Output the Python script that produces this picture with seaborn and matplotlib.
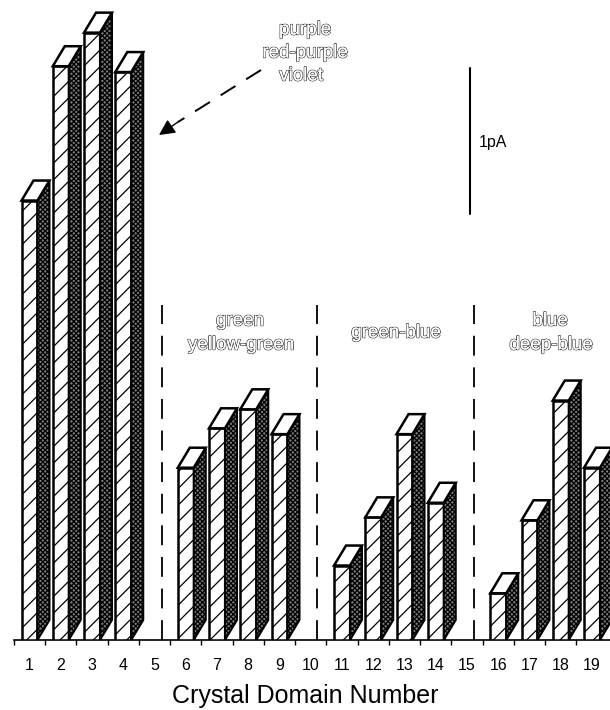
import matplotlib
matplotlib.use('Agg')
import matplotlib.pyplot as plt
import matplotlib.patheffects as pe
from matplotlib.patches import Polygon
import numpy as np
import pandas as pd
import seaborn as sns

# bar heights in pA
domains = [str(i) for i in range(1, 20)]
currents = [3.01, 3.93, 4.16, 3.89, 0, 1.18, 1.45, 1.58, 1.41, 0,
            0.51, 0.84, 1.41, 0.94, 0, 0.32, 0.82, 1.64, 1.18]

sns.set_theme(style='white')
plt.rcParams['font.family'] = ['Liberation Sans', 'DejaVu Sans']
plt.rcParams['hatch.linewidth'] = 0.9

PX_X = 31.25   # pixels per domain
PX_Y = 146.0   # pixels per pA
DX = 12 / PX_X  # 3d depth
DY = 20 / PX_Y

df = pd.DataFrame({'domain': domains, 'current': currents})

fig = plt.figure(figsize=(6.1, 7.1), dpi=100)
ax = fig.add_axes([0, 70 / 710, 1, 640 / 710])

sns.barplot(data=df, x='domain', y='current', width=0.51, color='white',
            saturation=1, edgecolor='black', linewidth=1.8, ax=ax, zorder=3)

for bar, val in zip(ax.patches, currents):
    if val == 0:
        bar.set_visible(False)
        continue
    bar.set_hatch('//')
    x0 = bar.get_x()
    x1 = x0 + bar.get_width()
    side = Polygon([(x1, 0), (x1 + DX, DY), (x1 + DX, val + DY), (x1, val)],
                   facecolor='#7a7a7a', edgecolor='black', hatch='xxxxxxx',
                   linewidth=1.5, zorder=4)
    top = Polygon([(x0, val), (x0 + DX, val + DY), (x1 + DX, val + DY), (x1, val)],
                  facecolor='white', edgecolor='black', linewidth=1.8, zorder=5)
    ax.add_patch(side)
    ax.add_patch(top)

ax.set_xlim(-29.5 / PX_X, (610 - 29.5) / PX_X)
ax.set_ylim(0, 640 / PX_Y)
ax.set_yticks([])
ax.set_ylabel('')
ax.set_xticks(range(len(domains)), domains)
ax.set_xticks(np.arange(len(domains)) - 0.5, minor=True)
ax.tick_params(axis='x', which='major', length=0, pad=13, labelsize=11.5, colors='black')
ax.tick_params(axis='x', which='minor', length=3.8, width=1, bottom=True, color='black')
ax.set_xlabel('Crystal Domain Number', fontsize=18, color='black', labelpad=8)

sns.despine(ax=ax, left=True)
ax.spines['bottom'].set_color('black')
ax.spines['bottom'].set_linewidth(1.2)
ax.spines['bottom'].set_bounds(-0.5, ax.get_xlim()[1])


def px(x, y):
    return (x - 29.5) / PX_X, (640 - y) / PX_Y


# dashed group separators
for xp in [162, 317, 474]:
    ax.plot(*zip(px(xp, 640), px(xp, 305)), color='black', lw=1.3,
            dashes=(11, 6.5), zorder=2)

# scale bar
ax.plot(*zip(px(470, 68), px(470, 214)), color='black', lw=1.5)
ax.text(*px(479, 143), '1pA', fontsize=11.5, color='black', va='center', ha='left')

# hollow group labels
outline = [pe.withStroke(linewidth=1.0, foreground='#222222'), pe.Normal()]
group_labels = [('purple', 305, 30), ('red-purple', 305, 53), ('violet', 301, 76),
                ('green', 240, 321), ('yellow-green', 241, 345), ('green-blue', 396, 333),
                ('blue', 550, 321), ('deep-blue', 551, 345)]
for label, xp, yp in group_labels:
    ax.text(*px(xp, yp), label, fontsize=13.5, color='white', ha='center', va='center',
            path_effects=outline)

# dashed arrow to the first group
ax.plot(*zip(px(261, 70), px(178, 122)), color='black', lw=1.4, dashes=(9, 6.5))
ax.annotate('', xy=px(159, 135), xytext=px(178, 122),
            arrowprops=dict(arrowstyle='-|>', color='black', lw=1,
                            mutation_scale=24, shrinkA=0, shrinkB=0))

fig.savefig('out.png', dpi=100)
